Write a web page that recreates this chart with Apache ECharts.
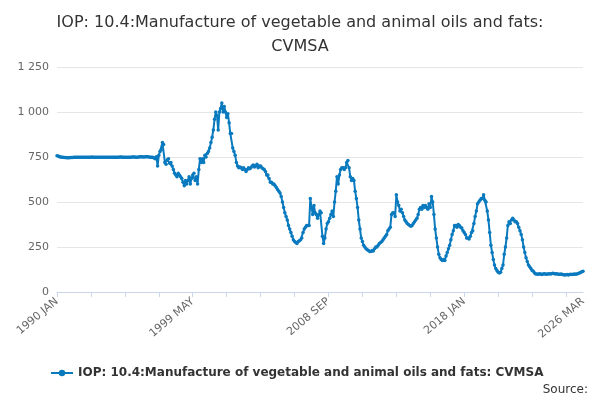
<!DOCTYPE html>
<html>
<head>
<meta charset="utf-8">
<script src="https://cdn.jsdelivr.net/npm/echarts@6/dist/echarts.min.js"></script>
<style>html,body{margin:0;padding:0;background:#fff}#main{width:600px;height:400px}</style>
</head>
<body>
<div id="main"></div>
<script>
var seriesName = 'IOP: 10.4:Manufacture of vegetable and animal oils and fats: CVMSA';
var monthNames = ['JAN','FEB','MAR','APR','MAY','JUN','JUL','AUG','SEP','OCT','NOV','DEC'];
// monthly values, one row per year, 1990 JAN .. 2026 MAR
var values = [
    757,755,752,750,749,748,747,747,746,746,746,747,
    747,747,748,748,748,748,749,749,748,748,749,749,
    749,748,748,749,749,750,749,749,748,748,749,749,
    748,748,749,749,749,748,748,749,749,749,748,748,
    748,749,749,749,750,750,749,749,749,748,748,749,
    749,749,750,750,750,749,749,750,750,751,751,750,
    750,751,751,752,750,749,748,748,745,740,752,700,
    760,780,790,830,820,720,710,735,740,715,720,700,
    680,660,650,640,660,650,640,630,610,590,620,600,
    620,640,600,630,650,660,620,640,600,680,740,720,
    740,720,760,750,770,780,800,830,860,900,960,1000,
    980,900,1000,1020,1050,1000,1030,1000,970,990,940,880,
    880,800,780,760,720,700,690,695,690,680,690,680,
    670,680,690,685,690,700,705,695,700,710,690,700,
    700,690,685,680,670,650,650,630,610,610,600,600,
    590,580,570,560,550,530,500,470,440,420,400,370,
    350,330,310,290,280,275,270,280,285,290,300,330,
    350,360,370,370,370,520,470,430,480,440,430,410,
    430,450,440,310,270,300,350,380,390,410,430,450,
    420,500,560,640,600,650,680,690,690,680,690,720,
    730,690,640,620,630,620,560,520,470,400,350,300,
    280,260,250,240,235,230,225,225,230,228,240,250,
    250,260,270,275,280,290,300,310,320,340,350,360,
    430,440,440,420,540,500,480,450,460,440,420,400,
    390,380,375,370,365,370,380,390,400,410,430,460,
    470,460,480,470,480,470,460,490,470,530,500,430,
    350,300,250,210,190,180,175,180,175,200,220,240,
    260,290,320,340,370,370,360,375,370,360,355,340,
    330,320,300,300,295,310,330,340,380,420,450,490,
    500,510,520,520,540,510,500,450,400,330,260,220,
    180,150,130,120,110,105,110,130,150,210,250,300,
    370,390,380,400,410,400,390,390,380,360,340,320,
    290,250,220,190,170,150,140,130,120,115,105,100,
    100,98,102,100,97,100,102,100,98,100,101,100,
    102,104,103,100,101,100,99,98,100,97,96,95,
    96,97,95,97,98,97,99,100,98,100,103,105,
    108,112,115
];
var months = [];
for (var i = 0; i < values.length; i++) {
    months.push((1990 + Math.floor(i / 12)) + ' ' + monthNames[i % 12]);
}
var last = values.length - 1;

var myChart = echarts.init(document.getElementById('main'));
var option = {
    animation: false,
    textStyle: {fontFamily: 'DejaVu Sans'},
    title: {
        text: 'IOP: 10.4:Manufacture of vegetable and animal oils and fats:\nCVMSA',
        left: 'center',
        top: 6,
        textStyle: {fontSize: 16, fontWeight: 'normal', color: '#333', lineHeight: 24}
    },
    legend: {
        data: [seriesName],
        bottom: 16,
        left: 45,
        itemWidth: 22,
        itemHeight: 8,
        textStyle: {fontSize: 12, fontWeight: 'bold', color: '#333'}
    },
    graphic: [{
        type: 'text', right: 12, bottom: 4,
        style: {text: 'Source:', fontSize: 12, fill: '#333', fontFamily: 'DejaVu Sans'}
    }],
    grid: {left: 57, right: 17, top: 67, bottom: 108},
    xAxis: {
        type: 'category',
        boundaryGap: false,
        data: months,
        axisLine: {lineStyle: {color: '#ccd6eb'}},
        axisTick: {
            lineStyle: {color: '#ccd6eb'},
            interval: function (i) { return i % 28 === 0; }
        },
        axisLabel: {
            rotate: 40,
            color: '#666',
            fontSize: 11,
            interval: function (i) { return i % 112 === 0 || i === last; }
        }
    },
    yAxis: {
        type: 'value',
        min: 0, max: 1250, interval: 250,
        axisLabel: {
            color: '#666', fontSize: 11,
            formatter: function (v) { return String(v).replace(/\B(?=(\d{3})+(?!\d))/g, ' '); }
        },
        splitLine: {lineStyle: {color: '#e6e6e6'}}
    },
    series: [{
        name: seriesName,
        type: 'line',
        data: values,
        symbol: 'circle',
        symbolSize: 3.5,
        showAllSymbol: true,
        color: '#0a7abf',
        lineStyle: {width: 2, color: '#0a7abf'}
    }]
};
myChart.setOption(option);
</script>
</body>
</html>
